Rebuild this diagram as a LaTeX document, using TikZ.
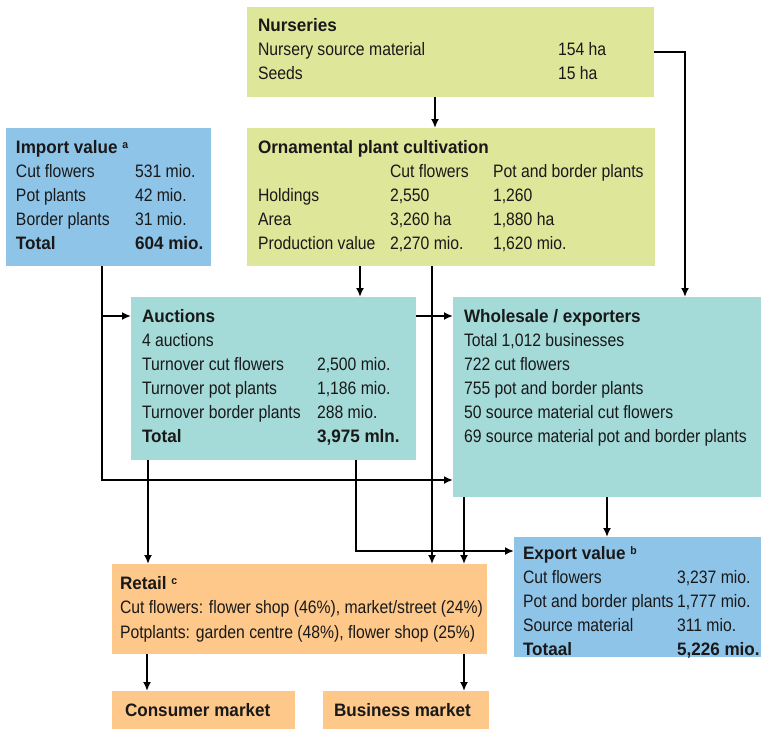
\documentclass[tikz,border=0pt]{standalone}
\usepackage{fontspec}
\setmainfont{Liberation Sans}[FakeStretch=0.875, BoldFeatures={FakeStretch=0.95}]
\usetikzlibrary{arrows.meta}
\definecolor{cgreen}{RGB}{222,230,154}
\definecolor{cblue}{RGB}{143,196,233}
\definecolor{cteal}{RGB}{164,218,216}
\definecolor{corange}{RGB}{253,200,138}
\definecolor{ctext}{RGB}{25,25,25}
\newcommand{\supr}[1]{\raisebox{5pt}{\fontsize{11}{11}\selectfont\bfseries #1}}
\begin{document}
\begin{tikzpicture}[x=1pt,y=-1pt,
  box/.style={anchor=north west, inner sep=0, outer sep=0, draw=none},
  txt/.style={anchor=base west, inner sep=0, outer sep=0, text=ctext, font=\fontsize{18}{20}\selectfont},
  ttl/.style={txt, font=\fontsize{18}{20}\selectfont\bfseries},
  arr/.style={line width=1.8pt, -{Latex[length=9pt,width=8pt]}},
  ln/.style={line width=1.8pt}]
\useasboundingbox (0,0) rectangle (761,729);
% boxes
\node[box, fill=cgreen, minimum width=407, minimum height=90] (nurs) at (247,7) {};
\node[box, fill=cgreen, minimum width=408, minimum height=138] (orn) at (247,128) {};
\node[box, fill=cblue, minimum width=205, minimum height=138] (imp) at (6,128) {};
\node[box, fill=cteal, minimum width=285, minimum height=163] (auc) at (131,297) {};
\node[box, fill=cteal, minimum width=308, minimum height=200] (whl) at (453,297) {};
\node[box, fill=cblue, minimum width=247, minimum height=120] (exp) at (514,537) {};
\node[box, fill=corange, minimum width=375, minimum height=90] (ret) at (112,564) {};
\node[box, fill=corange, minimum width=183, minimum height=38] (con) at (112,691) {};
\node[box, fill=corange, minimum width=166, minimum height=38] (bus) at (323,691) {};
% Nurseries text
\node[ttl] (n1) at (258,31) {Nurseries};
\node[txt] (n2) at (258,55) {Nursery source material};
\node[txt] (n2b) at (558,55) {154 ha};
\node[txt] (n3) at (258,79) {Seeds};
\node[txt] (n3b) at (558,79) {15 ha};
% Ornamental
\node[ttl] (o1) at (258,153) {Ornamental plant cultivation};
\node[txt] (o2a) at (390,177) {Cut flowers};
\node[txt] (o2b) at (493,177) {Pot and border plants};
\node[txt] (o3) at (258,201) {Holdings};
\node[txt] (o3a) at (390,201) {2,550};
\node[txt] (o3b) at (493,201) {1,260};
\node[txt] (o4) at (258,225) {Area};
\node[txt] (o4a) at (390,225) {3,260 ha};
\node[txt] (o4b) at (493,225) {1,880 ha};
\node[txt] (o5) at (258,249) {Production value};
\node[txt] (o5a) at (390,249) {2,270 mio.};
\node[txt] (o5b) at (493,249) {1,620 mio.};
% Import
\node[ttl] (i1) at (16,153) {Import value \supr{a}};
\node[txt] (i2) at (16,177) {Cut flowers};
\node[txt] (i2b) at (135,177) {531 mio.};
\node[txt] (i3) at (16,201) {Pot plants};
\node[txt] (i3b) at (135,201) {42 mio.};
\node[txt] (i4) at (16,225) {Border plants};
\node[txt] (i4b) at (135,225) {31 mio.};
\node[ttl] (i5) at (16,249) {Total};
\node[ttl] (i5b) at (135,249) {604 mio.};
% Auctions
\node[ttl] (a1) at (142,322) {Auctions};
\node[txt] (a2) at (142,346) {4 auctions};
\node[txt] (a3) at (142,370) {Turnover cut flowers};
\node[txt] (a3b) at (317,370) {2,500 mio.};
\node[txt] (a4) at (142,394) {Turnover pot plants};
\node[txt] (a4b) at (317,394) {1,186 mio.};
\node[txt] (a5) at (142,418) {Turnover border plants};
\node[txt] (a5b) at (317,418) {288 mio.};
\node[ttl] (a6) at (142,442) {Total};
\node[ttl] (a6b) at (317,442) {3,975 mln.};
% Wholesale
\node[ttl] (w1) at (464,322) {Wholesale / exporters};
\node[txt] (w2) at (464,346) {Total 1,012 businesses};
\node[txt] (w3) at (464,370) {722 cut flowers};
\node[txt] (w4) at (464,394) {755 pot and border plants};
\node[txt] (w5) at (464,418) {50 source material cut flowers};
\node[txt] (w6) at (464,442) {69 source material pot and border plants};
% Export
\node[ttl] (e1) at (523,559) {Export value \supr{b}};
\node[txt] (e2) at (523,583) {Cut flowers};
\node[txt] (e2b) at (677,583) {3,237 mio.};
\node[txt] (e3) at (523,607) {Pot and border plants};
\node[txt] (e3b) at (677,607) {1,777 mio.};
\node[txt] (e4) at (523,631) {Source material};
\node[txt] (e4b) at (677,631) {311 mio.};
\node[ttl] (e5) at (523,655) {Totaal};
\node[ttl] (e5b) at (677,655) {5,226 mio.};
% Retail
\node[ttl] (r1) at (120,589) {Retail \supr{c}};
\node[txt] (r2) at (120,613) {Cut flowers: flower shop (46\%), market/street (24\%)};
\node[txt] (r3) at (120,638) {Potplants: garden centre (48\%), flower shop (25\%)};
\node[ttl] (c1) at (125,716) {Consumer market};
\node[ttl] (b1) at (334,716) {Business market};
% connectors
\coordinate (nbend) at (685,52);
\coordinate (ibr) at (102,316);
\coordinate (ibot) at (102,480);
\coordinate (abend) at (356,551);
\draw[arr] (nurs.south -| 435,0) -- (orn.north -| 435,0);
\draw[arr] (nurs.east |- nbend) -- (nbend) -- (whl.north -| nbend);
\draw[arr] (orn.south -| 360,0) -- (auc.north -| 360,0);
\draw[ln] (imp.south -| ibr) -- (ibr);
\draw[arr] (ibr) -- (auc.west |- ibr);
\draw[arr] (ibr) -- (ibot) -- (whl.west |- ibot);
\draw[arr] (auc.east |- 0,316) -- (whl.west |- 0,316);
\draw[arr] (orn.south -| 432,0) -- (ret.north -| 432,0);
\draw[arr] (whl.south -| 464,0) -- (ret.north -| 464,0);
\draw[arr] (auc.south -| 148,0) -- (ret.north -| 148,0);
\draw[arr] (auc.south -| abend) -- (abend) -- (exp.west |- abend);
\draw[arr] (whl.south -| 607,0) -- (exp.north -| 607,0);
\draw[arr] (ret.south -| 147,0) -- (con.north -| 147,0);
\draw[arr] (ret.south -| 464,0) -- (bus.north -| 464,0);
\end{tikzpicture}
\end{document}
